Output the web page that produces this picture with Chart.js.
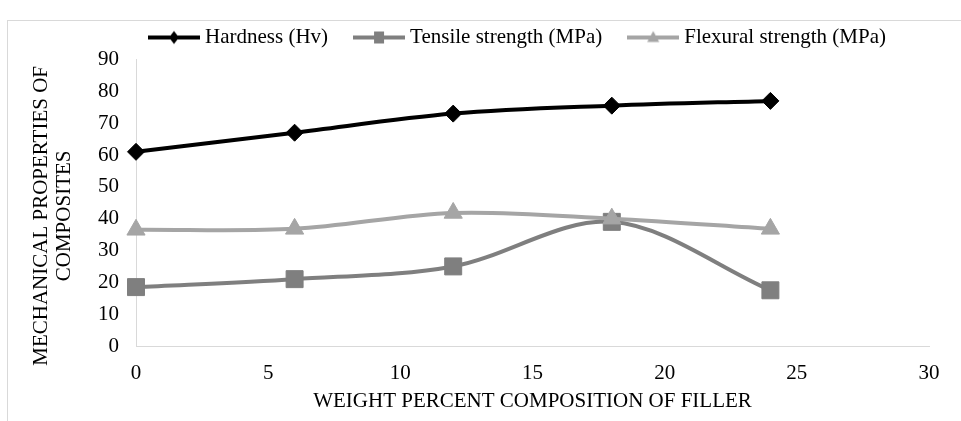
<!DOCTYPE html>
<html><head><meta charset="utf-8">
<script src="https://cdn.jsdelivr.net/npm/chart.js@4.4.1/dist/chart.umd.min.js"></script>
<style>
html,body{margin:0;padding:0;background:#fff;overflow:hidden;width:961px;height:421px;}
#frame{position:absolute;left:7px;top:20px;width:1100px;height:600px;border:1px solid #d9d9d9;box-sizing:border-box;}
#c{position:absolute;left:0;top:0;}
</style></head><body>
<div id="frame"></div>
<canvas id="c" width="961" height="421"></canvas>
<script>
// ---- data ----
const categories = [0, 6, 12, 18, 24];
const seriesNames = ['Hardness (Hv)', 'Tensile strength (MPa)', 'Flexural strength (MPa)'];
const hardness = [61, 67, 73, 75.5, 77];
const tensile = [18.5, 21, 25, 39, 17.5];
const flexural = [36.5, 36.8, 41.8, 40, 36.8];
const xTickValues = [0, 5, 10, 15, 20, 25, 30];
const yTickValues = [0, 10, 20, 30, 40, 50, 60, 70, 80, 90];
const xTitle = 'WEIGHT PERCENT COMPOSITION OF FILLER';
const yTitle = ['MECHANICAL PROPERTIES OF', 'COMPOSITES'];

// ---- styles ----
const colors = ['#000000', '#7f7f7f', '#a5a5a5'];
const styles = ['rectRot', 'rect', 'triangle'];
const radii = [8.5, 12, 10.5];
const FONT = "'Liberation Serif', 'Times New Roman', serif";

function toXY(vals){ return categories.map((x, i) => ({x: x, y: vals[i]})); }
const values = [hardness, tensile, flexural];

function legendIcon(color, style){
  const cv = document.createElement('canvas');
  cv.width = 52; cv.height = 20;
  const ctx = cv.getContext('2d');
  ctx.strokeStyle = color; ctx.fillStyle = color; ctx.lineWidth = 4;
  ctx.beginPath(); ctx.moveTo(0, 10); ctx.lineTo(52, 10); ctx.stroke();
  ctx.beginPath();
  const cx = 26, cy = 10;
  if (style === 'rectRot') {
    ctx.moveTo(cx, cy - 6.5); ctx.lineTo(cx + 5, cy); ctx.lineTo(cx, cy + 6.5); ctx.lineTo(cx - 5, cy);
  } else if (style === 'rect') {
    ctx.rect(cx - 5, cy - 6, 10, 12);
  } else {
    ctx.moveTo(cx, cy - 6.5); ctx.lineTo(cx + 6, cy + 4.5); ctx.lineTo(cx - 6, cy + 4.5);
  }
  ctx.closePath(); ctx.fill();
  return cv;
}
const legendIcons = colors.map((c, i) => legendIcon(c, styles[i]));

const datasets = seriesNames.map((name, i) => ({
  label: name,
  data: toXY(values[i]),
  borderColor: colors[i],
  backgroundColor: colors[i],
  borderWidth: 4,
  pointStyle: styles[i],
  pointRadius: radii[i],
  pointBorderWidth: 1,
  pointBackgroundColor: colors[i],
  pointBorderColor: colors[i],
  tension: 0.33,
  clip: false,
  order: [0, 2, 1][i]
}));

const legendFix = {
  id: 'legendFix',
  beforeLayout(chart){
    const lg = chart.legend;
    if (lg && !lg.__patched) {
      const orig = lg.fit;
      lg.fit = function(){ orig.call(this); this.height = 59.5; };
      lg.__patched = true;
    }
  },
  afterLayout(chart){
    const lg = chart.legend;
    if (lg) { lg.left = 123; lg.top = -3.5; lg.bottom = lg.top + lg.height; }
  }
};

new Chart(document.getElementById('c'), {
  type: 'line',
  data: { datasets: datasets },
  plugins: [legendFix],
  options: {
    responsive: false,
    animation: false,
    devicePixelRatio: 1,
    layout: { padding: { left: 0, right: 32, top: 0, bottom: 0 } },
    plugins: {
      tooltip: { enabled: false },
      legend: {
        position: 'top',
        align: 'start',
        labels: {
          usePointStyle: true,
          pointStyleWidth: 41,
          padding: 30.5,
          color: '#000',
          font: { family: FONT, size: 21 },
          generateLabels: (chart) => seriesNames.map((n, i) => ({
            text: n, pointStyle: legendIcons[i], fillStyle: colors[i], strokeStyle: colors[i],
            lineWidth: 0, hidden: false, datasetIndex: i, fontColor: '#000'
          }))
        }
      }
    },
    scales: {
      x: {
        type: 'linear', min: 0, max: 30,
        afterBuildTicks: (s) => { s.ticks = xTickValues.map(v => ({value: v})); },
        afterFit: (s) => { s.height = 75; },
        grid: { display: false, drawTicks: false },
        border: { display: true, color: '#d9d9d9', width: 1 },
        ticks: { color: '#000', font: { family: FONT, size: 21 }, padding: 15, maxRotation: 0 },
        title: { display: true, text: xTitle, color: '#000', font: { family: FONT, size: 21 }, padding: { top: 0, bottom: 7 } }
      },
      y: {
        type: 'linear', min: 0, max: 90,
        afterBuildTicks: (s) => { s.ticks = yTickValues.map(v => ({value: v})); },
        afterFit: (s) => { s.width = 136; },
        grid: { display: false, drawTicks: false },
        border: { display: true, color: '#d9d9d9', width: 1 },
        ticks: { color: '#000', font: { family: FONT, size: 21 }, padding: 17 },
        title: { display: true, text: yTitle.map(s => s + '\u00a0\u00a0\u00a0\u00a0\u00a0'), color: '#000', font: { family: FONT, size: 21, lineHeight: 1.1 }, padding: { top: 29.5, bottom: 0 } }
      }
    }
  }
});
</script>
</body></html>
